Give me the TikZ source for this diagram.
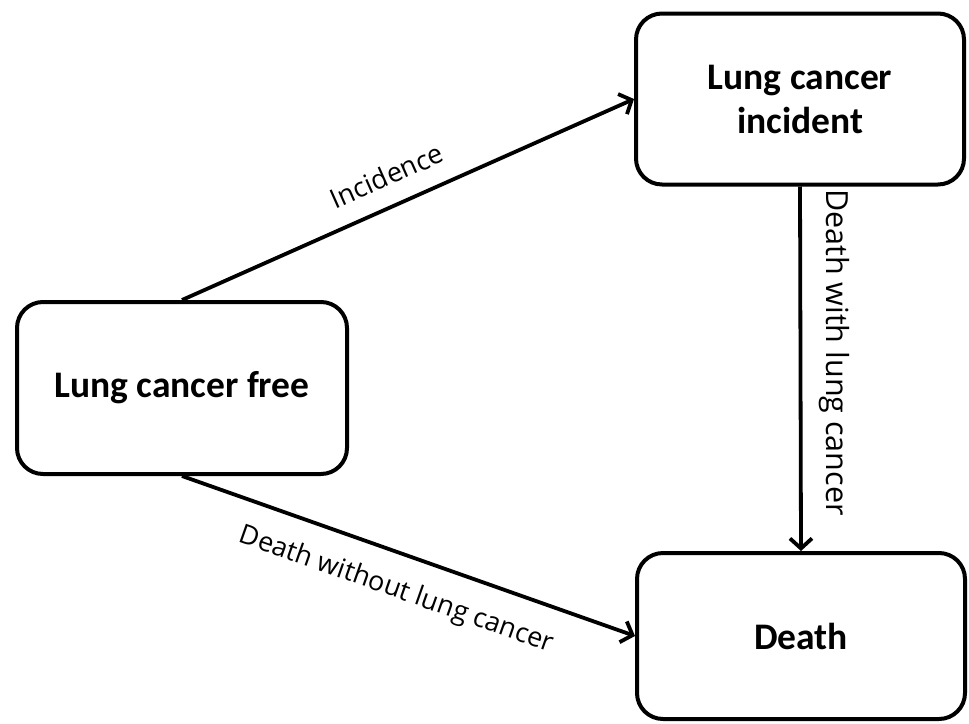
\documentclass[tikz,border=0pt]{standalone}
\usepackage{fontspec}
\setmainfont{Carlito}
\newfontfamily\labelfont{Open Sans}
\usetikzlibrary{arrows.meta}
\tikzset{
  statebox/.style={draw=black, line width=4pt, rounded corners=26pt, fill=white,
    font=\fontsize{37.5}{44}\selectfont\bfseries, align=center, inner sep=0pt},
  trans/.style={line width=3.8pt, -{Straight Barb[length=10pt,width=22pt,line width=3.8pt]}},
  lab/.style={font=\labelfont\fontsize{27}{32}\selectfont}
}
\begin{document}
\begin{tikzpicture}[x=1pt,y=-1pt]
\useasboundingbox (0,0) rectangle (969,723);
\node[statebox, minimum width=330pt, minimum height=172pt] (free) at (182,388) {Lung cancer free};
\node[statebox, minimum width=328pt, minimum height=171pt] (inc) at (800,99) {Lung cancer\\incident};
\node[statebox, minimum width=328pt, minimum height=166pt] (death) at (801,636) {Death};
\draw[trans] (free.north) -- node[lab, pos=0.48, sloped, above, inner sep=18pt] (l1) {Incidence} (inc.west);
\draw[trans] (free.south) -- node[lab, pos=0.5, sloped, below, inner sep=21pt] (l2) {Death without lung cancer} (death.west);
\draw[trans] (inc.south) -- node[lab, font=\labelfont\fontsize{30.5}{36}\selectfont, pos=0.455, rotate=-90, anchor=south, inner sep=17pt] (l3) {Death with lung cancer} (death.north);
\end{tikzpicture}
\end{document}
